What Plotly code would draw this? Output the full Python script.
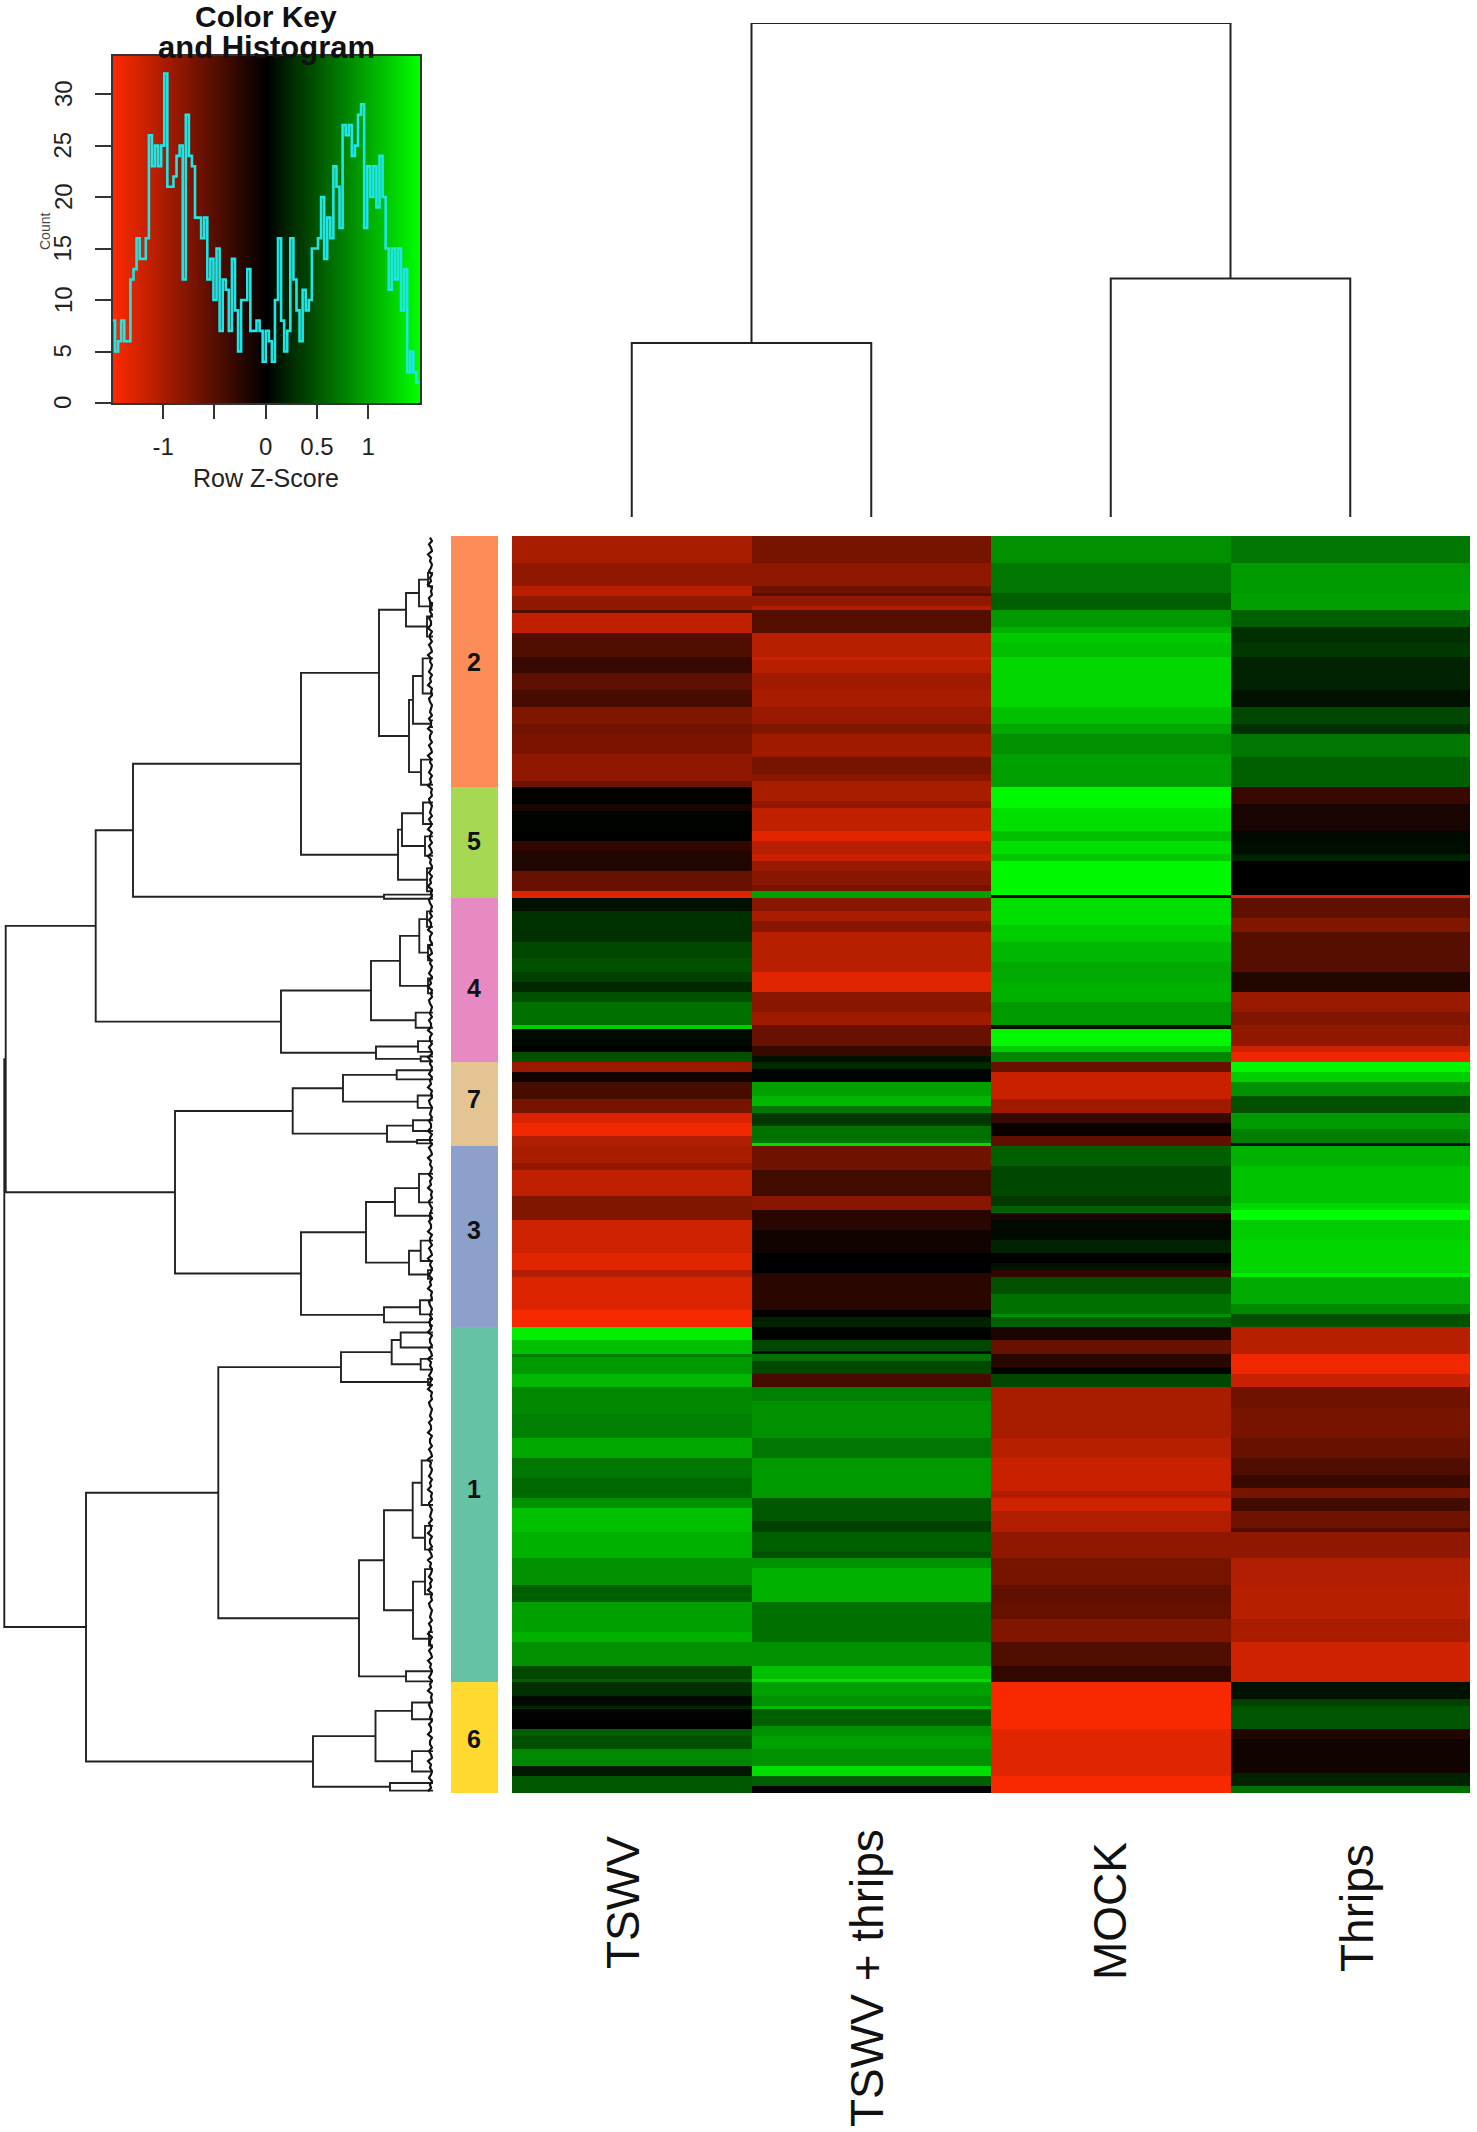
import numpy as np
import plotly.graph_objects as go

W, H = 1477, 2132
FONT = "Liberation Sans"
INK = "#222222"

samples = ["TSWV", "TSWV + thrips", "MOCK", "Thrips"]

# heatmap bands, top to bottom: last row of each band and its row z-score
tswv_ends = [8, 15, 18, 22, 23, 29, 36, 41, 46, 51, 56, 59, 65, 73, 75, 80, 82, 88, 91, 94, 100, 106, 108, 112, 121,
             126, 130, 133, 136, 139, 146, 147, 152, 154, 157, 160, 163, 168, 172, 175, 179, 182, 187, 189, 197, 204,
             214, 219, 221, 231, 236, 240, 244, 245, 250, 254, 262, 269, 275, 281, 287, 290, 297, 305, 313, 318, 327,
             330, 337, 341, 342, 346, 349, 350, 353, 356, 358, 362, 367, 370, 375]
tswv_z = [-0.99, -0.85, -1.08, -0.85, -0.5, -1.13, -0.47, -0.33, -0.56, -0.42, -0.75, -0.66, -0.72, -0.85, -0.66, 0,
          -0.14, 0.02, 0, -0.28, -0.2, -0.61, -1.3, 0.1, 0.28, 0.42, 0.47, 0.38, 0.24, 0.47, 0.66, 1.2, 0.05, 0.02,
          0.47, -0.9, -0.1, -0.42, -0.7, -1.27, -1.41, -1.04, -0.99, -0.85, -1.13, -0.75, -1.22, -1.32, -1.04, -1.3,
          -1.45, 1.41, 1.13, 0.75, 0.9, 1.08, 0.8, 0.75, 0.99, 0.7, 0.61, 0.85, 1.13, 1.04, 0.85, 0.56, 0.94, 1.04,
          0.85, 0.42, 0.56, 0.28, 0.05, 0.24, 0.02, 0, 0.56, 0.47, 0.8, 0.14, 0.52]

combo_ends = [8, 15, 17, 18, 21, 22, 29, 36, 37, 41, 46, 51, 56, 59, 66, 71, 73, 79, 81, 88, 91, 95, 97, 100, 104, 106,
              108, 112, 115, 118, 130, 136, 142, 146, 152, 155, 157, 159, 163, 167, 170, 172, 176, 180, 181, 182, 189,
              197, 201, 207, 214, 220, 231, 233, 236, 240, 243, 244, 246, 250, 254, 258, 269, 275, 287, 294, 297, 303,
              305, 308, 318, 330, 337, 341, 342, 346, 349, 350, 355, 358, 362, 367, 370, 373, 375]
combo_z = [-0.7, -0.85, -0.66, -0.5, -0.85, -1.04, -0.5, -1.08, -1.18, -1.08, -0.94, -0.99, -0.9, -0.75, -0.94, -0.7,
           -0.8, -0.99, -0.85, -1.13, -1.32, -1.08, -1.18, -0.9, -0.8, -0.7, 0.94, -0.8, -0.99, -0.8, -1.08, -1.32,
           -0.8, -0.94, -0.61, -0.33, 0.1, 0.24, 0.02, 0.94, 1.08, 0.7, 0.33, 0.66, 0.7, 1.3, -0.66, -0.38, -0.8,
           -0.24, -0.1, 0, -0.24, -0.02, 0.2, 0.02, 0.42, 0.1, 0.66, 0.42, -0.42, 0.75, 0.85, 0.7, 0.9, 0.52, 0.38,
           0.56, 0.47, 0.85, 1.04, 0.66, 0.85, 1.13, 1.32, 0.94, 0.85, 1.1, 0.56, 0.85, 0.94, 0.85, 1.32, 0.56, 0.02]

mock_ends = [8, 17, 22, 27, 29, 32, 36, 51, 56, 59, 65, 75, 81, 88, 91, 95, 97, 107, 108, 116, 121, 127, 133, 139, 146,
             147, 152, 154, 157, 160, 168, 172, 175, 179, 182, 188, 197, 200, 202, 204, 210, 214, 217, 219, 221, 226,
             232, 233, 236, 240, 244, 248, 250, 254, 269, 275, 285, 287, 291, 297, 305, 313, 318, 323, 330, 337, 342,
             356, 370, 375]
mock_z = [0.85, 0.7, 0.56, 0.9, 1.04, 1.18, 1.13, 1.27, 1.13, 0.99, 0.85, 0.94, 1.46, 1.32, 1.13, 1.32, 1.18, 1.46,
          0.02, 1.32, 1.2, 1.08, 1.0, 1.04, 0.9, 0.1, 1.46, 1.22, 0.8, -0.61, -1.18, -0.94, -0.33, -0.05, -0.56, 0.56,
          0.42, 0.33, 0.56, -0.14, 0.05, 0.2, 0, 0.1, -0.28, 0.47, 0.66, 0.85, 0.56, -0.14, -0.61, -0.24, 0.02, 0.42,
          -0.99, -1.08, -1.18, -1.04, -1.22, -1.04, -0.85, -0.7, -0.56, -0.6, -0.75, -0.47, -0.28, -1.46, -1.32, -1.46]

thrips_ends = [8, 17, 22, 27, 32, 36, 46, 51, 56, 59, 66, 75, 80, 88, 91, 95, 97, 103, 107, 108, 114, 118, 130, 136,
               142, 146, 152, 154, 157, 160, 163, 167, 172, 177, 181, 182, 188, 199, 201, 204, 210, 220, 221, 229, 232,
               236, 244, 250, 254, 260, 269, 275, 280, 284, 287, 291, 296, 297, 305, 313, 323, 330, 342, 347, 349, 356,
               359, 369, 373, 375]
thrips_z = [0.7, 0.9, 0.94, 0.56, 0.28, 0.33, 0.2, 0.1, 0.42, 0.28, 0.7, 0.56, -0.33, -0.14, 0.05, 0.08, 0.2, 0, 0,
            -1.3, -0.56, -0.75, -0.5, -0.2, -0.9, -0.75, -0.85, -1.2, -1.4, 1.46, 1.22, 0.85, 0.47, 0.9, 0.75, 0.1,
            1.04, 1.15, 1.27, 1.5, 1.2, 1.25, 1.42, 1.0, 0.8, 0.47, -1.08, -1.41, -1.18, -0.66, -0.7, -0.61, -0.47,
            -0.33, -0.7, -0.38, -0.66, -0.47, -0.85, -1.04, -1.08, -1.0, -1.22, 0.1, 0.38, 0.5, -0.2, -0.1, 0.2, 0.66]

# row side colour bar
cluster_labels = ["2", "5", "4", "7", "3", "1", "6"]
cluster_rows = [75, 33, 49, 25, 54, 106, 33]
cluster_label_rows = [37.5, 91, 134.7, 168, 207, 284.4, 359]
cluster_colors = ["#FC8D59", "#A6D854", "#E78AC3", "#E5C494", "#8DA0CB", "#66C2A5", "#FFD92F"]

# colour key histogram, 100 bins across the z-score range
hist_counts = [8, 5, 6, 8, 6, 6, 12, 13, 16, 14, 14, 16, 26, 23, 25, 23, 25, 32, 21, 21, 22, 24, 25, 12, 28, 24, 23,
               18, 18, 16, 18, 12, 14, 10, 15, 7, 12, 11, 7, 14, 9, 5, 10, 10, 13, 7, 7, 8, 7, 4, 7, 6, 4, 10, 16, 8,
               5, 7, 16, 12, 9, 6, 11, 9, 10, 15, 15, 16, 20, 14, 18, 16, 23, 21, 17, 27, 26, 27, 24, 25, 28, 29, 17,
               23, 20, 23, 19, 24, 20, 15, 11, 15, 12, 15, 9, 13, 3, 5, 3, 2]
key_ticks = [-1, -0.5, 0, 0.5, 1]
key_tick_text = ["-1", "", "0", "0.5", "1"]
count_ticks = [0, 5, 10, 15, 20, 25, 30]

# column dendrogram, leaves in heatmap order
column_merge_left = 0.352
column_merge_right = 0.483

# row dendrogram as (height, upper, lower); a plain number is a leaf row
cluster2 = (54, (27, (14, (5, 11, 15), (3, 20, 22)), (6, 24, 30)),
            (24, (20, (10.3, 36.5, 47), (2, 55, 57)), (12, 66.7, 74.2)))
cluster5 = (35, (31, (10, 79.5, 85.9), (8, 89.6, 95.4)), (6, 99.1, 106))
cluster4 = (152, (62, (33, (13.7, (6, 112, 116.6), (5, 122, 126.6)), (5, 132, 136.4)), (17.3, 142.2, 146.7)),
            (57, (15, 150.7, 153.9), (12.3, 155.3, 156.7)))
cluster7 = (140.3, (90, (36.3, 159.4, 162.1), (15.3, 166.9, 170.6)),
            (46, (20, 174.3, 177.5), (16, 180.2, 181.2)))
cluster3 = (132, (67, (38, (14, 190.3, 198.8), (3, 202, 203.6)), (24, (12.3, 210.2, 216.3), (5, 219, 221.6))),
            (49, (13, 228, 232.2), (3, 233.6, 235.6)))
cluster1 = (214.7, (92, (41.3, (32.3, 237.6, 242.1), (12.3, 245.5, 248.7)), (5, 251.5, 253.3)),
            (74, (49, (20.3, (11.3, 275.8, 289.1), (8, 295.3, 302.4)), (20, (8, 308.2, 315.7), (4, 327, 331))),
             (27, 338.7, 341.7)))
cluster6 = (120, (57.5, (21, 348, 353), (21, 362.5, 368.6)), (43, 372, 374.3))
row_tree = (428.7,
            (427.3,
             (337.3, (300, (132, cluster2, cluster5), (49, 107, 108.2)), cluster4),
             (258, cluster7, cluster3)),
            (347, cluster1, cluster6))
# small merges at the leaf end of the row tree
leaf_merge_h = [3, 1, 4, 2, 1, 5, 2, 3, 1, 2, 4, 1, 3, 2, 5, 1, 2, 1, 4, 3, 1, 2, 3, 1, 4, 2, 2, 5, 1, 3]


def xdom(a, b):
    return [a / W, b / W]


def ydom(a, b):
    return [1 - b / H, 1 - a / H]


def walk_tree(node, xs, ys):
    # returns (height, row) of a node and appends its bracket
    if not isinstance(node, tuple):
        return 0, node
    h, upper, lower = node
    h1, y1 = walk_tree(upper, xs, ys)
    h2, y2 = walk_tree(lower, xs, ys)
    xs += [h1, h, h, h2, None]
    ys += [y1, y1, y2, y2, None]
    return h, (y1 + y2) / 2


fig = go.Figure()

scale = [[0, "#FF2A00"], [0.5, "#000000"], [1, "#00FF00"]]

# main heatmap
columns = [(tswv_ends, tswv_z), (combo_ends, combo_z), (mock_ends, mock_z), (thrips_ends, thrips_z)]
rows = np.arange(375) + 0.5
matrix = np.column_stack([np.repeat(z, np.diff([0] + ends)) for ends, z in columns])
fig.add_trace(go.Heatmap(
    x=[0, 1, 2, 3], y=rows, z=matrix,
    colorscale=scale, zmin=-1.5, zmax=1.5, showscale=False,
    hoverinfo="skip", xaxis="x", yaxis="y",
))

# row side colours
for n, color in zip(cluster_rows, cluster_colors):
    fig.add_trace(go.Bar(
        x=[0], y=[n], marker=dict(color=color, line_width=0), width=1,
        showlegend=False, hoverinfo="skip", xaxis="x3", yaxis="y3",
    ))

# colour key
breaks = np.linspace(-1.5, 1.5, len(hist_counts) + 1)
fig.add_trace(go.Heatmap(
    x=breaks, y=[0, 34], z=[breaks, breaks],
    colorscale=scale, zmin=-1.5, zmax=1.5, zsmooth="best", showscale=False,
    hoverinfo="skip", xaxis="x2", yaxis="y2",
))
fig.add_trace(go.Scatter(
    x=breaks, y=hist_counts + hist_counts[-1:], mode="lines",
    line=dict(color="#1FE6E6", width=2.6, shape="hv"),
    showlegend=False, hoverinfo="skip", xaxis="x2", yaxis="y2",
))

# row dendrogram
tree_x, tree_y = [], []
walk_tree(row_tree, tree_x, tree_y)
fig.add_trace(go.Scatter(
    x=tree_x, y=tree_y, mode="lines", line=dict(color=INK, width=1.9),
    showlegend=False, hoverinfo="skip", xaxis="x4", yaxis="y4",
))
fig.add_trace(go.Scatter(
    x=np.resize(leaf_merge_h, 375), y=rows, mode="lines", line=dict(color="#111111", width=2.2),
    showlegend=False, hoverinfo="skip", xaxis="x4", yaxis="y4",
))

# column dendrogram
col_x = [0, 0, 1, 1, None, 2, 2, 3, 3, None, 0.5, 0.5, 2.5, 2.5]
col_y = [0, column_merge_left, column_merge_left, 0, None, 0, column_merge_right, column_merge_right, 0, None,
         column_merge_left, 1, 1, column_merge_right]
fig.add_trace(go.Scatter(
    x=col_x, y=col_y, mode="lines", line=dict(color=INK, width=2),
    showlegend=False, hoverinfo="skip", xaxis="x5", yaxis="y5",
))

hidden = dict(visible=False, fixedrange=True)
axis_font = dict(family=FONT, size=24, color=INK)

fig.update_layout(
    width=W, height=H, margin=dict(l=0, r=0, t=0, b=0),
    paper_bgcolor="white", plot_bgcolor="white", showlegend=False,
    barmode="stack", bargap=0, font=dict(family=FONT),
    xaxis=dict(domain=xdom(512, 1470), range=[-0.5, 3.5], **hidden),
    yaxis=dict(domain=ydom(536, 1793), range=[375, 0], **hidden),
    xaxis2=dict(domain=xdom(113, 420), range=[-1.49, 1.505], anchor="y2", tickmode="array",
                tickvals=key_ticks, ticktext=key_tick_text, ticks="outside", ticklen=14, tickwidth=1.5,
                tickcolor="#333333", showline=True, linecolor="#333333", linewidth=1.5, mirror=True,
                showgrid=False, zeroline=False, tickfont=axis_font, ticklabelstandoff=7, tickangle=0),
    yaxis2=dict(domain=ydom(56, 403), range=[0, 33.7], anchor="x2", tickmode="array",
                tickvals=count_ticks, ticks="outside", ticklen=16, tickwidth=1.5, showticklabels=False,
                tickcolor="#333333", showline=True, linecolor="#333333", linewidth=1.5, mirror=True,
                showgrid=False, zeroline=False),
    xaxis3=dict(domain=xdom(451, 498), range=[-0.5, 0.5], anchor="y3", **hidden),
    yaxis3=dict(domain=ydom(536, 1793), range=[375, 0], anchor="x3", **hidden),
    xaxis4=dict(domain=xdom(0, 433), range=[433, 0], anchor="y4", **hidden),
    yaxis4=dict(domain=ydom(536, 1793), range=[375, 0], anchor="x4", **hidden),
    xaxis5=dict(domain=xdom(512, 1470), range=[-0.5, 3.5], anchor="y5", **hidden),
    yaxis5=dict(domain=ydom(23, 517), range=[0, 1], anchor="x5", **hidden),
)


def add_text(text, px, py, size, angle=0, bold=False, color=INK):
    fig.add_annotation(
        x=px / W, y=1 - py / H, xref="paper", yref="paper", text=text, showarrow=False,
        xanchor="center", yanchor="middle", textangle=angle,
        font=dict(family=FONT, size=size, color=color, weight="bold" if bold else "normal"),
    )


add_text("Color Key", 266, 17, 30, bold=True, color="#111111")
add_text("and Histogram", 266, 47, 31, bold=True, color="#111111")
add_text("Row Z-Score", 266, 478, 25)
add_text("Count", 45, 232, 14, angle=-90, color="#444444")

label_x = [623, 867, 1110, 1357]
label_y = [1903, 1978, 1911, 1908]
for text, px, py in zip(samples, label_x, label_y):
    add_text(text, px, py, 46, angle=-90, color="#111111")

# count labels sit on the axis values, turned as in base R
for v in count_ticks:
    fig.add_annotation(
        x=63 / W, xref="paper", y=v, yref="y2", text=str(v), showarrow=False, textangle=-90,
        xanchor="center", yanchor="middle", font=axis_font,
    )

# cluster numbers on the side bar
for label, row in zip(cluster_labels, cluster_label_rows):
    fig.add_annotation(
        x=0, xref="x3", y=row, yref="y3", text=label, showarrow=False,
        font=dict(family=FONT, size=25, color="#111111", weight="bold"),
    )

fig.write_html("out.html", config={"displayModeBar": False},
               post_script="document.body.style.margin='0';")
